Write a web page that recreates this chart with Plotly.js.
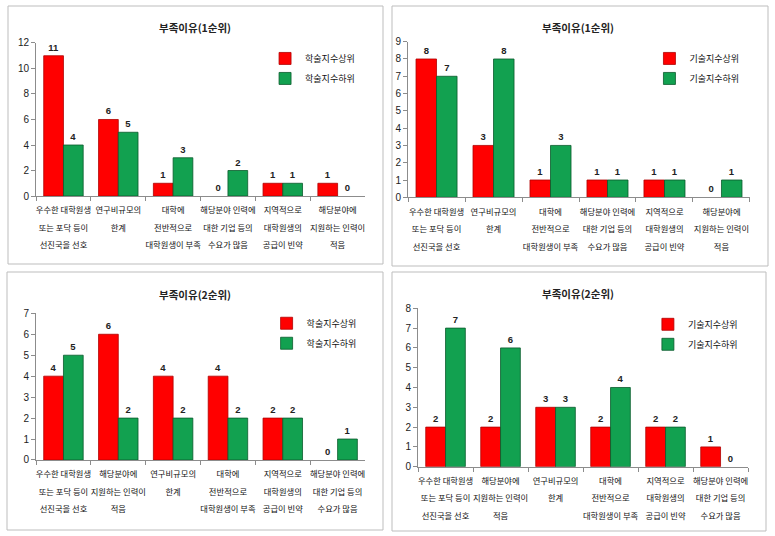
<!DOCTYPE html>
<html>
<head>
<meta charset="utf-8">
<script src="https://cdn.plot.ly/plotly-3.0.1.min.js"></script>
<style>html,body{margin:0;padding:0;background:#fff;}#chart{width:775px;height:536px;}</style>
</head>
<body>
<div id="chart"></div>
<script>
// ---- Data ----
const cats1 = ["우수한 대학원생|또는 포닥 등이|선진국을 선호", "연구비규모의|한계", "대학에|전반적으로|대학원생이 부족", "해당분야 인력에|대한 기업 등의|수요가 많음", "지역적으로|대학원생의|공급이 빈약", "해당분야에|지원하는 인력이|적음"];
const cats3 = ["우수한 대학원생|또는 포닥 등이|선진국을 선호", "해당분야에|지원하는 인력이|적음", "연구비규모의|한계", "대학에|전반적으로|대학원생이 부족", "지역적으로|대학원생의|공급이 빈약", "해당분야 인력에|대한 기업 등의|수요가 많음"];

const p1High = [11, 6, 1, 0, 1, 1];
const p1Low  = [4, 5, 3, 2, 1, 0];
const p2High = [8, 3, 1, 1, 1, 0];
const p2Low  = [7, 8, 3, 1, 1, 1];
const p3High = [4, 6, 4, 4, 2, 0];
const p3Low  = [5, 2, 2, 2, 2, 1];
const p4High = [2, 2, 3, 2, 2, 1];
const p4Low  = [7, 6, 3, 4, 2, 0];

const titles = ["부족이유(1순위)", "부족이유(1순위)", "부족이유(2순위)", "부족이유(2순위)"];
const namesAcad = ["학술지수상위", "학술지수하위"];
const namesTech = ["기술지수상위", "기술지수하위"];

// ---- Style ----
const RED = "#FF0000", GREEN = "#12A150";
const KR = "Noto Sans CJK KR, sans-serif";
const NUM = "Liberation Sans Narrow, Liberation Sans, Arial, sans-serif";

function tickText(c) {
  return c.split("|").map(s => '<span style="font-size:8.3px">' + s + '</span>').join("<br>");
}

const panels = [
  {cats: cats1, hi: p1High, lo: p1Low, names: namesAcad, ax: ""},
  {cats: cats1, hi: p2High, lo: p2Low, names: namesTech, ax: "2"},
  {cats: cats3, hi: p3High, lo: p3Low, names: namesAcad, ax: "3"},
  {cats: cats3, hi: p4High, lo: p4Low, names: namesTech, ax: "4"}
];

const traces = [];
panels.forEach((p, i) => {
  const leg = i === 0 ? "legend" : "legend" + (i + 1);
  [[p.hi, RED, "#B00000", p.names[0]], [p.lo, GREEN, "#0A5A2C", p.names[1]]].forEach((s, k) => {
    traces.push({
      type: "bar",
      x: p.cats,
      y: s[0],
      name: s[3],
      legend: leg,
      legendgroup: "g" + i + k,
      marker: {color: s[1], line: {color: s[2], width: s[0].map(v => v > 0 ? 0.8 : 0)}},
      text: s[0].map(String),
      textposition: "outside",
      textfont: {family: NUM, size: 9.5, color: "#222", weight: "bold"},
      cliponaxis: false,
      xaxis: "x" + p.ax,
      yaxis: "y" + p.ax,
      hoverinfo: "x+y"
    });
  });
});

const xDom = [[0.0465, 0.4710], [0.5265, 0.9677], [0.0465, 0.4710], [0.5394, 0.9652]];
const yDom = [[0.6343, 0.9198], [0.6319, 0.9222], [0.1418, 0.4155], [0.1293, 0.4248]];
const yMax = [12, 9, 7, 8];
const yStep = [2, 1, 1, 1];

const layout = {
  width: 775, height: 536,
  margin: {l: 0, r: 0, t: 0, b: 0},
  paper_bgcolor: "#fff", plot_bgcolor: "#fff",
  barmode: "group", bargap: 0.28, bargroupgap: 0,
  showlegend: true,
  annotations: [], shapes: []
};

panels.forEach((p, i) => {
  const xa = "xaxis" + p.ax, ya = "yaxis" + p.ax;
  layout[xa] = {
    domain: xDom[i], anchor: "y" + p.ax, type: "category",
    tickmode: "array", tickvals: p.cats, ticktext: p.cats.map(tickText),
    tickangle: 0, automargin: false,
    tickfont: {family: KR, size: 13.5, color: "#111"},
    showline: true, linecolor: "#8c8c8c", linewidth: 1,
    ticks: "outside", tickson: "boundaries", ticklen: 4, tickcolor: "#8c8c8c",
    showgrid: false, zeroline: false, fixedrange: true, ticklabelstandoff: 0
  };
  layout[ya] = {
    domain: yDom[i], anchor: "x" + p.ax, range: [0, yMax[i]], dtick: yStep[i],
    tickfont: {family: NUM, size: 10, color: "#222"},
    showline: true, linecolor: "#8c8c8c", linewidth: 1,
    ticks: "outside", ticklen: 4, tickcolor: "#8c8c8c",
    showgrid: false, zeroline: false, fixedrange: true
  };
  const leg = i === 0 ? "legend" : "legend" + (i + 1);
  const lx = [0.342, 0.838, 0.344, 0.836][i];
  const ly = [0.918, 0.918, 0.424, 0.422][i];
  layout[leg] = {
    x: lx, y: ly, xanchor: "left", yanchor: "top",
    font: {family: KR, size: 9, color: "#111"},
    bgcolor: "rgba(0,0,0,0)", traceorder: "grouped", tracegroupgap: 1,
    itemwidth: 30,
    itemclick: false, itemdoubleclick: false
  };
  const tx = [195, 578, 195, 578][i], ty = [27, 27, 294, 293][i];
  layout.annotations.push({
    text: "<b>" + titles[i] + "</b>", xref: "paper", yref: "paper",
    x: tx / 775, y: 1 - ty / 536, xanchor: "center", yanchor: "middle",
    showarrow: false, font: {family: KR, size: 10.5, color: "#222"}
  });
});

const boxes = [[8, 383, 6, 264], [392, 768, 6, 266], [7, 383, 272, 530], [392, 766, 272, 531]];
boxes.forEach(b => {
  layout.shapes.push({
    type: "rect", xref: "paper", yref: "paper",
    x0: b[0] / 775, x1: b[1] / 775, y0: 1 - b[3] / 536, y1: 1 - b[2] / 536,
    line: {color: "#bdbdbd", width: 1}, fillcolor: "rgba(0,0,0,0)", layer: "below"
  });
});

Plotly.newPlot("chart", traces, layout, {displayModeBar: false, staticPlot: true});
</script>
</body>
</html>
